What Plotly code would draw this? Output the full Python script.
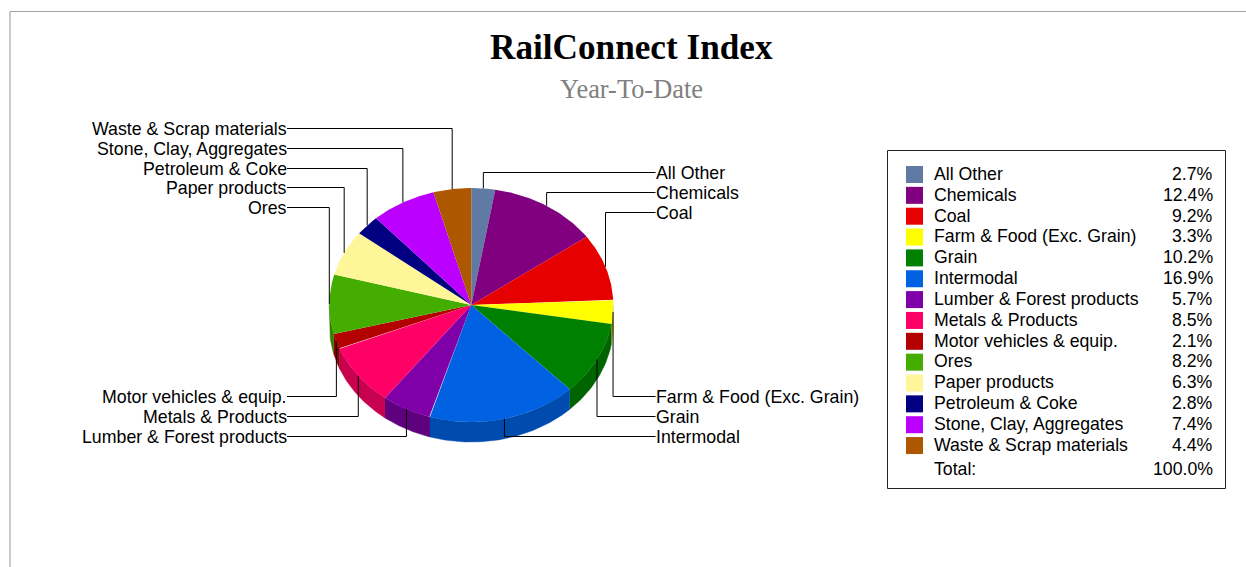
import numpy as np
import plotly.graph_objects as go

categories = ["All Other", "Chemicals", "Coal", "Farm & Food (Exc. Grain)", "Grain", "Intermodal",
              "Lumber & Forest products", "Metals & Products", "Motor vehicles & equip.", "Ores",
              "Paper products", "Petroleum & Coke", "Stone, Clay, Aggregates", "Waste & Scrap materials"]
values = [2.7, 12.4, 9.2, 3.3, 10.2, 16.9, 5.7, 8.5, 2.1, 8.2, 6.3, 2.8, 7.4, 4.4]
colors = ["#5F7AA3", "#800080", "#E60000", "#FFFF00", "#008000", "#0062E3", "#7F00A8",
          "#FF0066", "#B30000", "#44AD00", "#FFF599", "#000080", "#BB00FF", "#AD5700"]
side_colors = ["#4A5F7F", "#640064", "#B30000", "#B8B800", "#006400", "#004BAE", "#5F007F",
               "#C80050", "#8A0000", "#327F00", "#C8C078", "#000064", "#9200C8", "#874400"]
total_value = 100.0
total_label = "100.0%"

TITLE = "RailConnect Index"
SUBTITLE = "Year-To-Date"

W, H = 1246, 567
CX, CY, RX, RY, DEPTH = 471.3, 305.0, 142.0, 117.0, 20.0
RIGHT_X, LEFT_X = 655.5, 287.0
# leader line rows, one per category in order
label_rows = [172.5, 192.5, 212.5, 396.5, 416.5, 436.5, 436.5, 416.5, 396.5, 207.5, 187.5, 168.5, 148.5, 128.5]
label_side = ["r", "r", "r", "r", "r", "r", "l", "l", "l", "l", "l", "l", "l", "l"]
LABEL_FONT = 17.75
LEG_FONT = 17.7

v = np.array(values, dtype=float)
# the rounded shares add to 100.1, so the last slice simply closes the circle
fracs = np.minimum(np.cumsum(np.r_[0, v]) / total_value, 1.0)
angles = 2 * np.pi * fracs


def ex(t):
    return CX + RX * np.sin(t)


def ey(t, dz=0.0):
    return CY - RY * np.cos(t) + dz


def note(x, y, text, anchor, size, family="Liberation Sans", color="#000000"):
    return dict(x=x, y=y, text=text, xref="x", yref="y", showarrow=False, xanchor=anchor, yanchor="middle",
                borderpad=0, borderwidth=0, font=dict(family=family, size=size, color=color))


fig = go.Figure()

# rim of the disc: only the front half (90 to 270 degrees) is visible
for i, c in enumerate(categories):
    a0 = max(angles[i], np.pi / 2)
    a1 = min(angles[i + 1], 3 * np.pi / 2)
    if a1 <= a0:
        continue
    t = np.linspace(a0, a1, 60)
    xs = np.r_[ex(t), ex(t[::-1])]
    ys = np.r_[ey(t), ey(t[::-1], DEPTH)]
    fig.add_trace(go.Scatter(x=xs, y=ys, mode="lines", fill="toself", fillcolor=side_colors[i],
                             line=dict(width=0.5, color=side_colors[i]), hoverinfo="skip", showlegend=False))

# top face of each slice
for i, c in enumerate(categories):
    t = np.linspace(angles[i], angles[i + 1], 80)
    xs = np.r_[CX, ex(t), CX]
    ys = np.r_[CY, ey(t), CY]
    fig.add_trace(go.Scatter(x=xs, y=ys, mode="lines", fill="toself", fillcolor=colors[i],
                             line=dict(width=0), name=c, text=f"{c}: {values[i]}%",
                             hoverinfo="text", showlegend=False))

# leader lines from the middle of each slice's rim
annotations = []
for i, c in enumerate(categories):
    mid = (angles[i] + angles[i + 1]) / 2
    px, py = ex(mid), ey(mid)
    row = label_rows[i]
    end = RIGHT_X if label_side[i] == "r" else LEFT_X
    fig.add_trace(go.Scatter(x=[px, px, end], y=[py, row, row], mode="lines",
                             line=dict(color="#000000", width=1), hoverinfo="skip", showlegend=False))
    annotations.append(note(end, row + 0.5, c, "left" if label_side[i] == "r" else "right", LABEL_FONT))

shapes = [
    dict(type="line", x0=10, x1=W, y0=11.5, y1=11.5, xref="x", yref="y", line=dict(color="#A6A6A6", width=1.2)),
    dict(type="line", x0=10, x1=10, y0=11.5, y1=H, xref="x", yref="y", line=dict(color="#A6A6A6", width=1.2)),
    dict(type="rect", x0=887.5, x1=1225.5, y0=150.5, y1=488.5, xref="x", yref="y",
         line=dict(color="#222222", width=1), fillcolor="rgba(0,0,0,0)"),
]

# legend table
SWATCH_TOP = 166.0
ROW_STEP = 20.85
for i, c in enumerate(categories):
    top = SWATCH_TOP + i * ROW_STEP
    shapes.append(dict(type="rect", x0=906, x1=923, y0=top, y1=top + 17, xref="x", yref="y",
                       line=dict(width=0), fillcolor=colors[i]))
    annotations.append(note(933.5, top + 7.8, c, "left", LEG_FONT))
    annotations.append(note(1212.5, top + 7.8, f"{values[i]:.1f}%", "right", LEG_FONT))
annotations.append(note(933.5, 468.8, "Total:", "left", LEG_FONT))
annotations.append(note(1212.5, 468.8, total_label, "right", LEG_FONT))

annotations.append(note(631.5, 47.5, f"<b>{TITLE}</b>", "center", 35.2, "Liberation Serif"))
annotations.append(note(631.5, 89, SUBTITLE, "center", 26.4, "Liberation Serif", "#808080"))

fig.update_layout(
    width=W, height=H, autosize=False,
    margin=dict(l=0, r=0, t=0, b=0, pad=0),
    paper_bgcolor="#FFFFFF", plot_bgcolor="#FFFFFF",
    showlegend=False,
    xaxis=dict(range=[0, W], visible=False, fixedrange=True),
    yaxis=dict(range=[H, 0], visible=False, fixedrange=True),
    shapes=shapes, annotations=annotations,
)

fig.write_html("out.html", config={"displayModeBar": False},
               post_script="document.body.style.margin='0';")
